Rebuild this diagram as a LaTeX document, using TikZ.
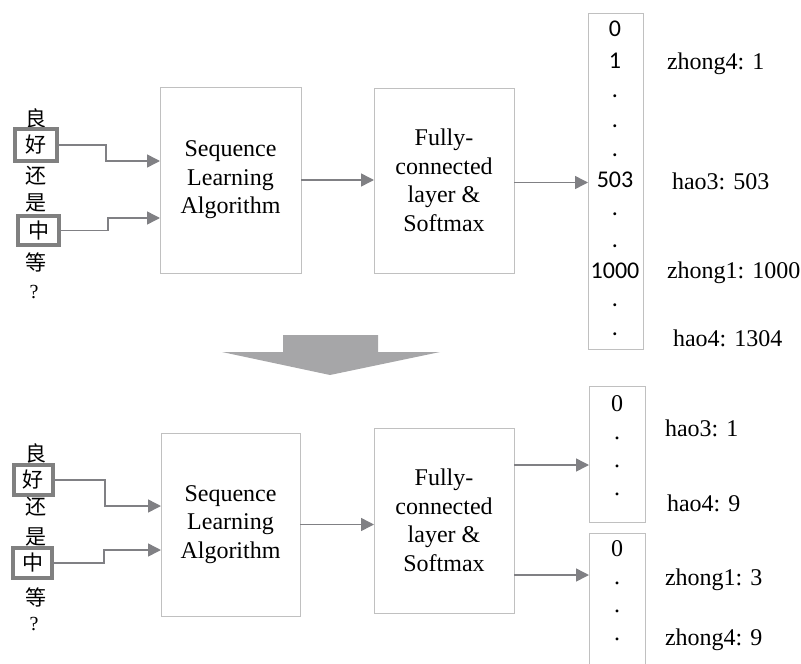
\documentclass[tikz,border=0pt]{standalone}
\usepackage{fontspec}
\setmainfont{Liberation Serif}
\newfontfamily\carl{Carlito}
\newfontfamily\cjk{Noto Sans CJK SC}
\usetikzlibrary{arrows.meta}
\definecolor{conncol}{RGB}{128,128,132}
\definecolor{boxcol}{RGB}{192,192,192}
\definecolor{bigarrow}{RGB}{166,166,168}
\definecolor{charbox}{RGB}{128,128,128}
\begin{document}
\begin{tikzpicture}[x=1pt,y=-1pt,
  every node/.style={inner sep=0pt, outer sep=0pt},
  blk/.style={draw=boxcol, line width=1pt, align=center, font=\fontsize{24}{28.5}\selectfont},
  vec/.style={draw=boxcol, line width=1pt},
  ch/.style={font=\cjk\fontsize{21}{21}\selectfont},
  chbox/.style={draw=charbox, line width=4pt, font=\cjk\fontsize{21}{21}\selectfont},
  qm/.style={font=\fontsize{20}{20}\selectfont},
  ent/.style={anchor=base, font=\carl\fontsize{24}{24}\selectfont},
  sent/.style={anchor=base, font=\fontsize{24}{24}\selectfont},
  lab/.style={anchor=base west, font=\fontsize{24}{24}\selectfont},
  conn/.style={draw=conncol, line width=1.5pt, -{Triangle[length=13pt,width=13pt]}}
]
\useasboundingbox (0,0) rectangle (801,664);
\clip (0,0) rectangle (801,664);

% ---------------- top part ----------------
\node[ch] (liangT) at (36,118) {良};
\node[chbox, minimum width=42pt, minimum height=32pt] (haoT) at (36,145) {好};
\node[ch] (haiT) at (36,176) {还};
\node[ch] (shiT) at (36,203) {是};
\node[chbox, minimum width=41pt, minimum height=29pt] (zhongT) at (38.5,230.5) {中};
\node[ch] (dengT) at (36,262) {等};
\node[qm] (qT) at (34,292) {?};

\node[blk, minimum width=141pt, minimum height=186pt] (seqT) at (230.5,180) {Sequence\\Learning\\Algorithm};
\node[blk, minimum width=140pt, minimum height=185pt] (fcT) at (444,180.5) {Fully-\\connected\\layer \&\\Softmax};
\node[vec, minimum width=55pt, minimum height=336pt] (vT) at (615.5,181) {};

\node[ent] (eT0) at (615,36.5) {0};
\node[ent] (eT1) at (615,68.5) {1};
\node[ent] (eT2) at (615,97) {.};
\node[ent] (eT3) at (615,127) {.};
\node[ent] (eT4) at (615,156) {.};
\node[ent] (eT5) at (615,187.5) {503};
\node[ent] (eT6) at (615,215) {.};
\node[ent] (eT7) at (615,247) {.};
\node[ent] (eT8) at (615,278.5) {1000};
\node[ent] (eT9) at (615,306) {.};
\node[ent] (eT10) at (615,335) {.};

\node[lab] (lT1) at (667,69) {zhong4: 1};
\node[lab] (lT2) at (672,189) {hao3: 503};
\node[lab] (lT3) at (667,278) {zhong1: 1000};
\node[lab] (lT4) at (673,346) {hao4: 1304};

\coordinate (inT1) at (160,161);
\coordinate (inT2) at (160,218);
\coordinate (outT) at (588,182.5);
\draw[conn] (haoT.east) -- ++(49,0) |- (inT1);
\draw[conn] (zhongT.east) -- ++(49,0) |- (inT2);
\draw[conn] (seqT.east) -- (seqT.east -| fcT.west);
\draw[conn] (outT -| fcT.east) -- (outT);

% ---------------- big arrow ----------------
\fill[bigarrow] (283,335) -- (378,335) -- (378,352) -- (440,352) -- (330,375) -- (222,352) -- (283,352) -- cycle;

% ---------------- bottom part ----------------
\node[ch] (liangB) at (36,453) {良};
\node[chbox, minimum width=39pt, minimum height=30pt] (haoB) at (33.5,480) {好};
\node[ch] (haiB) at (36,507) {还};
\node[ch] (shiB) at (36,537) {是};
\node[chbox, minimum width=39pt, minimum height=30pt] (zhongB) at (32.5,563) {中};
\node[ch] (dengB) at (36,597) {等};
\node[qm] (qB) at (34,624) {?};

\node[blk, minimum width=139pt, minimum height=183pt] (seqB) at (230.5,524.5) {Sequence\\Learning\\Algorithm};
\node[blk, minimum width=140pt, minimum height=185pt] (fcB) at (444,520.5) {Fully-\\connected\\layer \&\\Softmax};
\node[vec, minimum width=56pt, minimum height=136pt] (vB1) at (617,454) {};
\node[vec, minimum width=56pt, minimum height=167pt] (vB2) at (617,616.5) {};

\node[sent] (eB10) at (617,411) {0};
\node[sent] (eB11) at (617,439) {.};
\node[sent] (eB12) at (617,467) {.};
\node[sent] (eB13) at (617,495) {.};
\node[sent] (eB20) at (617,556) {0};
\node[sent] (eB21) at (617,584) {.};
\node[sent] (eB22) at (617,612) {.};
\node[sent] (eB23) at (617,640) {.};

\node[lab] (lB1) at (665,436) {hao3: 1};
\node[lab] (lB2) at (667,511) {hao4: 9};
\node[lab] (lB3) at (665,585) {zhong1: 3};
\node[lab] (lB4) at (665,645) {zhong4: 9};

\coordinate (inB1) at (161,506);
\coordinate (inB2) at (161,550);
\coordinate (oB1) at (589,465);
\coordinate (oB2) at (589,575);
\draw[conn] (haoB.east) -- ++(52,0) |- (inB1);
\draw[conn] (zhongB.east) -- ++(52,0) |- (inB2);
\draw[conn] (seqB.east) -- (seqB.east -| fcB.west);
\draw[conn] (oB1 -| fcB.east) -- (oB1);
\draw[conn] (oB2 -| fcB.east) -- (oB2);
\end{tikzpicture}
\end{document}
